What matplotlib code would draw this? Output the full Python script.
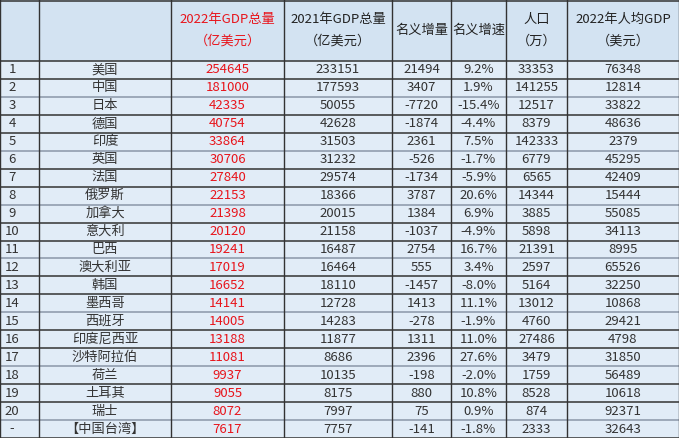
import matplotlib
matplotlib.use("Agg")
import matplotlib.pyplot as plt

plt.rcParams['font.family'] = ['Noto Sans CJK SC', 'DejaVu Sans']

ranks = [str(i) for i in range(1, 21)] + ["-"]
countries = ["美国", "中国", "日本", "德国", "印度", "英国", "法国", "俄罗斯", "加拿大", "意大利",
             "巴西", "澳大利亚", "韩国", "墨西哥", "西班牙", "印度尼西亚", "沙特阿拉伯", "荷兰",
             "土耳其", "瑞士", "【中国台湾】"]
gdp22 = [254645, 181000, 42335, 40754, 33864, 30706, 27840, 22153, 21398, 20120,
         19241, 17019, 16652, 14141, 14005, 13188, 11081, 9937, 9055, 8072, 7617]
gdp21 = [233151, 177593, 50055, 42628, 31503, 31232, 29574, 18366, 20015, 21158,
         16487, 16464, 18110, 12728, 14283, 11877, 8686, 10135, 8175, 7997, 7757]
incr = [21494, 3407, -7720, -1874, 2361, -526, -1734, 3787, 1384, -1037,
        2754, 555, -1457, 1413, -278, 1311, 2396, -198, 880, 75, -141]
growth = ["9.2%", "1.9%", "-15.4%", "-4.4%", "7.5%", "-1.7%", "-5.9%", "20.6%", "6.9%", "-4.9%",
          "16.7%", "3.4%", "-8.0%", "11.1%", "-1.9%", "11.0%", "27.6%", "-2.0%", "10.8%", "0.9%", "-1.8%"]
pop = [33353, 141255, 12517, 8379, 142333, 6779, 6565, 14344, 3885, 5898,
       21391, 2597, 5164, 13012, 4760, 27486, 3479, 1759, 8528, 874, 2333]
gdp_pc = [76348, 12814, 33822, 48636, 2379, 45295, 42409, 15444, 55085, 34113,
          8995, 65526, 32250, 10868, 29421, 4798, 31850, 56489, 10618, 92371, 32643]
headers = ["", "", "2022年GDP总量\n（亿美元）", "2021年GDP总量\n（亿美元）", "名义增量", "名义增速",
           "人口\n（万）", "2022年人均GDP\n（美元）"]

W, H = 679, 438
edges = [0, 39, 171, 284, 392, 451, 506, 567, 679]
head_h = 61
row_h = (H - head_h) / len(ranks)

fig = plt.figure(figsize=(W / 100, H / 100), dpi=100)
ax = fig.add_axes([0, 0, 1, 1])
ax.set_xlim(0, W)
ax.set_ylim(H, 0)
ax.axis("off")

ax.add_patch(plt.Rectangle((0, 0), W, head_h, color="#d3e3f2"))
ax.add_patch(plt.Rectangle((0, head_h), W, H - head_h, color="#e1ecf7"))

for i, h in enumerate(headers):
    cx = (edges[i] + edges[i + 1]) / 2
    ax.text(cx, head_h / 2, h, ha="center", va="center", fontsize=9.5, linespacing=1.9,
            color="#e8141b" if i == 2 else "#222222")

cols = [ranks, countries, gdp22, gdp21, incr, growth, pop, gdp_pc]
for r in range(len(ranks)):
    cy = head_h + (r + 0.5) * row_h
    for c, col in enumerate(cols):
        cx = (edges[c] + edges[c + 1]) / 2
        if c == 0:
            cx = edges[0] + 12
        ax.text(cx, cy, str(col[r]), ha="center", va="center", fontsize=9.5,
                color="#e8141b" if c == 2 else "#333333")

for r in range(len(ranks) + 1):
    y = head_h + r * row_h
    ax.plot([0, W], [y, y], color="#333333" if r % 3 != 2 else "#8a97a8", lw=1.1)
ax.plot([0, W], [0.5, 0.5], color="#333333", lw=1.1)
for x in edges:
    ax.plot([x, x], [0, H], color="#333333", lw=1)

fig.savefig("out.png", dpi=100)
